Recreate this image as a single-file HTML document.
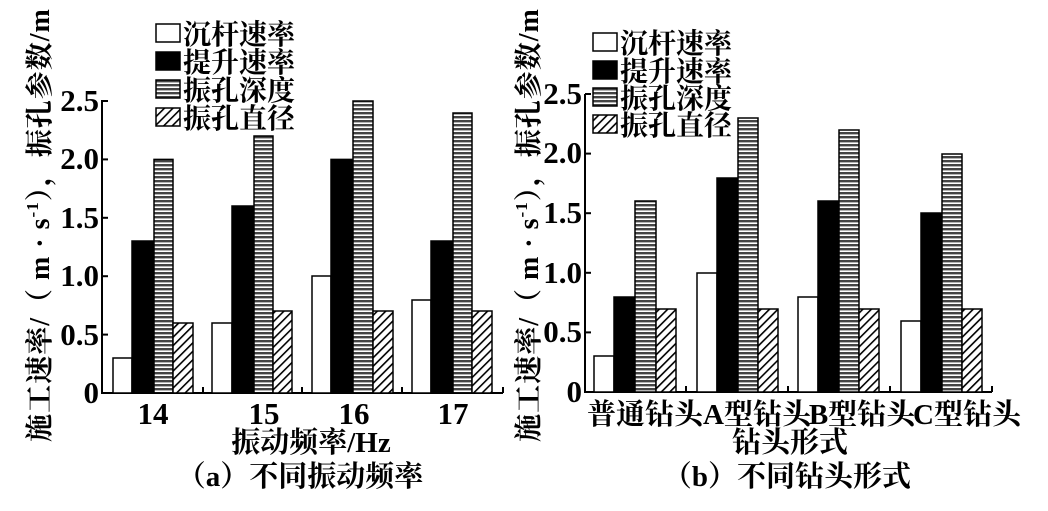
<!DOCTYPE html>
<html><head><meta charset="utf-8"><style>
body{margin:0;background:#fff}
svg text{font-family:"Liberation Serif","Noto Serif CJK SC",serif;font-weight:bold;fill:#000}
</style></head><body>
<svg width="1048" height="506" viewBox="0 0 1048 506" xmlns="http://www.w3.org/2000/svg">
<defs>
<pattern id="st" width="4" height="4" patternUnits="userSpaceOnUse"><rect width="4" height="4" fill="#fff"/><rect width="4" height="2.4" fill="#444"/></pattern>
<pattern id="ht" width="6" height="6" patternUnits="userSpaceOnUse" patternTransform="rotate(45)"><rect width="6" height="6" fill="#fff"/><rect width="1.6" height="6" fill="#000"/></pattern>
</defs>
<g stroke="#000" stroke-width="2">
<line x1="102" y1="100" x2="102" y2="394" />
<line x1="101" y1="393" x2="503" y2="393" />
<line x1="503" y1="393" x2="503" y2="387"/>
<line x1="102" y1="101" x2="108" y2="101"/>
<line x1="102" y1="159.4" x2="108" y2="159.4"/>
<line x1="102" y1="217.8" x2="108" y2="217.8"/>
<line x1="102" y1="276.2" x2="108" y2="276.2"/>
<line x1="102" y1="334.6" x2="108" y2="334.6"/>
<line x1="203" y1="393" x2="203" y2="387"/>
<line x1="302" y1="393" x2="302" y2="387"/>
<line x1="402" y1="393" x2="402" y2="387"/>
</g>
<g stroke="#000" stroke-width="1.5">
<rect x="113" y="358" width="19" height="35" fill="#fff"/>
<rect x="132" y="241" width="22" height="152" fill="#000"/>
<rect x="154" y="159.4" width="19" height="233.6" fill="url(#st)"/>
<rect x="173" y="323" width="20" height="70" fill="url(#ht)"/>
<rect x="212" y="323" width="20" height="70" fill="#fff"/>
<rect x="232" y="206" width="22" height="187" fill="#000"/>
<rect x="254" y="136" width="19" height="257" fill="url(#st)"/>
<rect x="273" y="311" width="19" height="82" fill="url(#ht)"/>
<rect x="312" y="276" width="19" height="117" fill="#fff"/>
<rect x="331" y="159.4" width="22" height="233.6" fill="#000"/>
<rect x="353" y="101" width="20" height="292" fill="url(#st)"/>
<rect x="373" y="311" width="20" height="82" fill="url(#ht)"/>
<rect x="412" y="300" width="19" height="93" fill="#fff"/>
<rect x="431" y="241" width="22" height="152" fill="#000"/>
<rect x="453" y="113" width="19" height="280" fill="url(#st)"/>
<rect x="472" y="311" width="20" height="82" fill="url(#ht)"/>
<rect x="156" y="24" width="24" height="18" fill="#fff"/>
<rect x="156" y="52" width="24" height="18" fill="#000"/>
<rect x="156" y="80" width="24" height="18" fill="url(#st)"/>
<rect x="156" y="108" width="24" height="18" fill="url(#ht)"/>
</g>
<g font-size="28">
<text x="183" y="44">沉杆速率</text>
<text x="183" y="72">提升速率</text>
<text x="183" y="100">振孔深度</text>
<text x="183" y="128">振孔直径</text>
</g>
<g font-size="31" text-anchor="end">
<text x="99" y="111">2.5</text>
<text x="99" y="169">2.0</text>
<text x="99" y="228">1.5</text>
<text x="99" y="286">1.0</text>
<text x="99" y="345">0.5</text>
<text x="99" y="403">0</text>
</g>
<g font-size="31" text-anchor="middle">
<text x="153" y="424">14</text>
<text x="264" y="424">15</text>
<text x="354" y="424">16</text>
<text x="453" y="424">17</text>
<text x="311" y="452" font-size="29">振动频率/Hz</text>
<text x="300" y="486" font-size="29">（a）不同振动频率</text>
<text transform="translate(49,225) rotate(-90)" font-size="28" letter-spacing="1">施工速率/（ m · s<tspan font-size="17" dy="-11">-1</tspan><tspan dy="11">），振孔参数/m</tspan></text>
</g>

<g stroke="#000" stroke-width="2">
<line x1="585" y1="94" x2="585" y2="393"/>
<line x1="584" y1="392" x2="992" y2="392"/>
<line x1="992" y1="392" x2="992" y2="386"/>
<line x1="585" y1="94" x2="591" y2="94"/>
<line x1="585" y1="153.6" x2="591" y2="153.6"/>
<line x1="585" y1="213.2" x2="591" y2="213.2"/>
<line x1="585" y1="272.8" x2="591" y2="272.8"/>
<line x1="585" y1="332.4" x2="591" y2="332.4"/>
<line x1="686" y1="392" x2="686" y2="386"/>
<line x1="788" y1="392" x2="788" y2="386"/>
<line x1="890" y1="392" x2="890" y2="386"/>
</g>
<g stroke="#000" stroke-width="1.5">
<rect x="594" y="356" width="20" height="36" fill="#fff"/>
<rect x="614" y="297" width="21" height="95" fill="#000"/>
<rect x="635" y="201" width="21" height="191" fill="url(#st)"/>
<rect x="656" y="309" width="20" height="83" fill="url(#ht)"/>
<rect x="697" y="273" width="20" height="119" fill="#fff"/>
<rect x="717" y="178" width="21" height="214" fill="#000"/>
<rect x="738" y="118" width="20" height="274" fill="url(#st)"/>
<rect x="758" y="309" width="20" height="83" fill="url(#ht)"/>
<rect x="798" y="297" width="20" height="95" fill="#fff"/>
<rect x="818" y="201" width="21" height="191" fill="#000"/>
<rect x="839" y="130" width="20" height="262" fill="url(#st)"/>
<rect x="859" y="309" width="20" height="83" fill="url(#ht)"/>
<rect x="901" y="321" width="20" height="71" fill="#fff"/>
<rect x="921" y="213" width="21" height="179" fill="#000"/>
<rect x="942" y="154" width="20" height="238" fill="url(#st)"/>
<rect x="962" y="309" width="20" height="83" fill="url(#ht)"/>
<rect x="593" y="33" width="24" height="18" fill="#fff"/>
<rect x="593" y="61" width="24" height="18" fill="#000"/>
<rect x="593" y="88" width="24" height="18" fill="url(#st)"/>
<rect x="593" y="115" width="24" height="18" fill="url(#ht)"/>
</g>
<g font-size="28">
<text x="620" y="53">沉杆速率</text>
<text x="620" y="81">提升速率</text>
<text x="620" y="108">振孔深度</text>
<text x="620" y="135">振孔直径</text>
</g>
<g font-size="31" text-anchor="end">
<text x="582" y="104">2.5</text>
<text x="582" y="163">2.0</text>
<text x="582" y="223">1.5</text>
<text x="582" y="283">1.0</text>
<text x="582" y="342">0.5</text>
<text x="582" y="402">0</text>
</g>
<g font-size="29" text-anchor="middle">
<text x="645" y="424">普通钻头</text>
<text x="757" y="424">A型钻头</text>
<text x="862" y="424">B型钻头</text>
<text x="967" y="424">C型钻头</text>
<text x="790" y="452">钻头形式</text>
<text x="787" y="486">（b）不同钻头形式</text>
<text transform="translate(538,225) rotate(-90)" font-size="28" letter-spacing="1">施工速率/（ m · s<tspan font-size="17" dy="-11">-1</tspan><tspan dy="11">），振孔参数/m</tspan></text>
</g>
</svg>
</body></html>
